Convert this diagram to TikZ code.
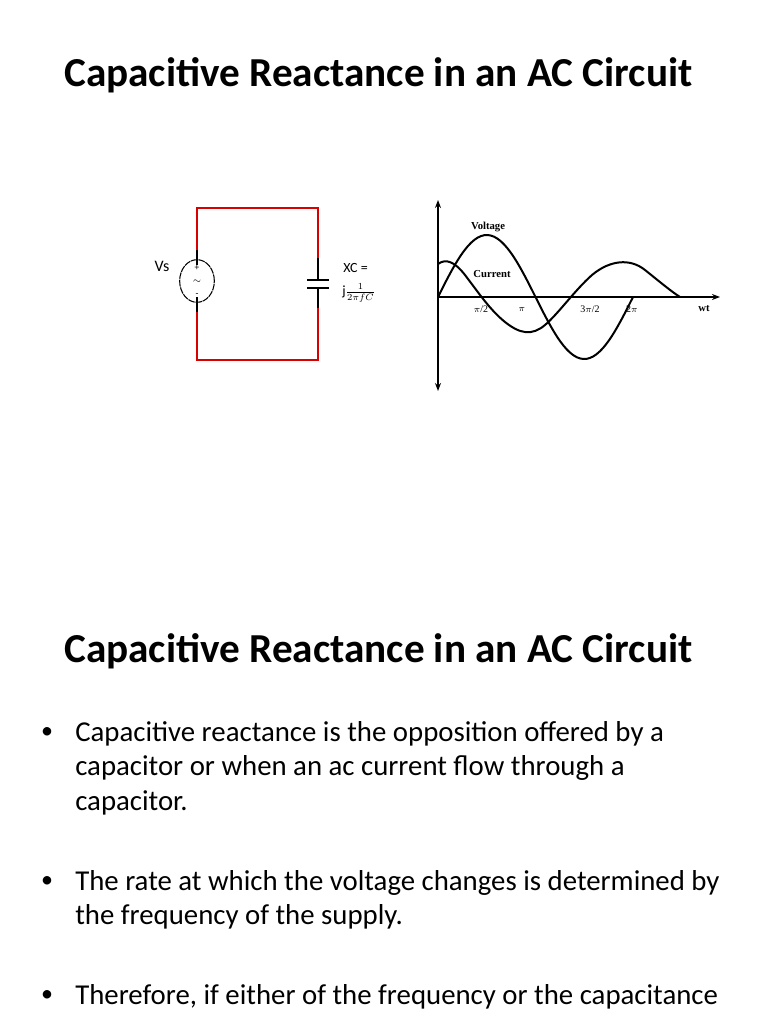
\documentclass[tikz,border=0pt]{standalone}
\usepackage{fontspec}
\setmainfont{Carlito}
\newfontfamily\timesf{Liberation Serif}
\usetikzlibrary{arrows.meta,shapes.geometric}
\begin{document}
\begin{tikzpicture}[x=0.75pt,y=-0.75pt,
  title/.style={anchor=west,font=\fontsize{30.9}{34}\selectfont\bfseries,inner sep=0},
  body/.style={anchor=west,font=\fontsize{21.6}{25.8}\selectfont,align=left,inner sep=0},
  bul/.style={font=\fontsize{18}{18}\selectfont,inner sep=0},
  wire/.style={red!85!black,line width=0.8pt},
  bw/.style={black,line width=0.8pt},
  lbl/.style={font=\timesf\bfseries\fontsize{8}{8}\selectfont,inner sep=0},
  tick/.style={font=\timesf\fontsize{7.5}{8}\selectfont,inner sep=0},
  sym/.style={font=\fontsize{7}{7}\selectfont,inner sep=0},
  curve/.style={line width=1.5pt,smooth,tension=0.6}]
\useasboundingbox (0,0) rectangle (768,1024);
\node[title] (t1) at (64,75) {Capacitive Reactance in an AC Circuit};
% circuit
\coordinate (tl) at (197,208); \coordinate (tr) at (318,208);
\coordinate (bl) at (197,360); \coordinate (br) at (318,360);
\draw[wire] (197,250) -- (tl) -- (tr) -- (318,258);
\draw[wire] (197,312) -- (bl) -- (br) -- (318,308);
\draw[bw] (197,250) -- (197,265);
\draw[bw] (197,297) -- (197,312);
\node[draw,ellipse,minimum width=26,minimum height=32,inner sep=0,line width=0.8pt,dash pattern=on 5pt off 0.6pt] (src) at (197,281) {};
\node[sym] at (197,268) {+};
\node[sym] at (197,282) {$\sim$};
\node[sym] at (197,295) {-};
\draw[bw] (318,258) -- (318,280) (318,288) -- (318,308);
\draw[line width=1.6pt] (307,280) -- (329,280) (307,288) -- (329,288);
\node[inner sep=0,font=\fontsize{12}{12}\selectfont] (vs) at (162,266) {Vs};
\node[inner sep=0,font=\fontsize{10.5}{10}\selectfont,anchor=west] (xc) at (343,268) {XC =};
\node[inner sep=0,anchor=west,font=\fontsize{10.5}{10}\selectfont] (frac) at (342,293) {j$\frac{1}{2\pi f C}$};
% graph
\coordinate (o) at (438,297);
\coordinate (top) at (438,200); \coordinate (bot) at (438,391);
\coordinate (xe) at (720,297);
\draw[line width=1.8pt,{Stealth[length=6pt]}-{Stealth[length=6pt]}] (top) -- (bot);
\draw[line width=1.4pt,-{Stealth[length=6pt]}] (o) -- (xe);
\draw[curve] plot[domain=0:195,samples=60,smooth] ({438+\x},{297-62*sin(\x/195*360)});
\draw[curve] (438,264) .. controls (446,258) and (455,262) .. (465,275) .. controls (478,292) and (490,310) .. (505,322) .. controls (520,334) and (532,336) .. (545,325) .. controls (558,314) and (575,290) .. (592,275) .. controls (610,260) and (630,258) .. (645,270) .. controls (660,282) and (672,292) .. (680,297);
\node[lbl] (v) at (488,227) {Voltage};
\node[lbl] (c) at (492,274) {Current};
\node[tick] at (481,309) {$\pi$/2};
\node[tick] at (522,309) {$\pi$};
\node[tick] at (590,309) {3$\pi$/2};
\node[tick] at (632,309) {2$\pi$};
\node[lbl] at (704,309) {wt};
% second part
\node[title] (t2) at (64,651) {Capacitive Reactance in an AC Circuit};
\node[bul] at (47,733) {•};
\node[body,anchor=north west] (b1) at (75,721) {Capacitive reactance is the opposition offered by a\\capacitor or when an ac current flow through a\\capacitor.};
\node[bul] at (47,882) {•};
\node[body,anchor=north west] (b2) at (75,870) {The rate at which the voltage changes is determined by\\the frequency of the supply.};
\node[bul] at (47,996) {•};
\node[body,anchor=north west] (b3) at (75,984) {Therefore, if either of the frequency or the capacitance};
\end{tikzpicture}
\end{document}
